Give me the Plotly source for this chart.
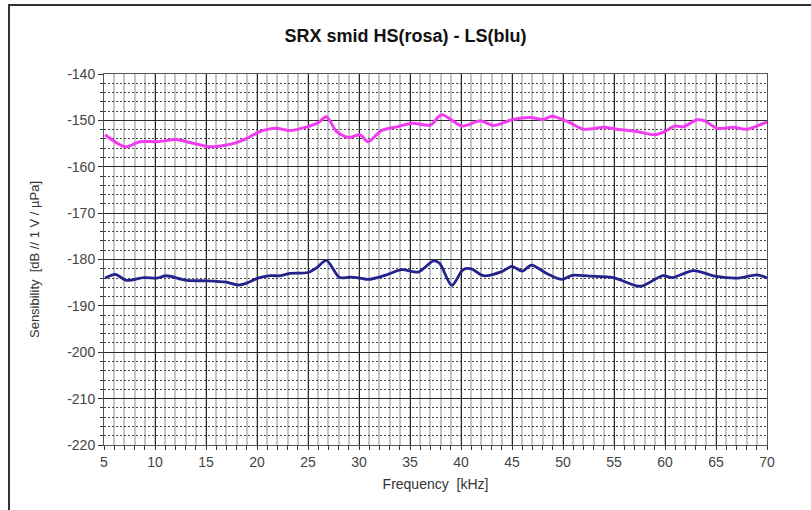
import plotly.graph_objects as go

# HS (rosa) series
hs_freq = [5.1, 7.1, 8.5, 10.2, 12.1, 13.1, 15.4, 17.0, 18.0, 19.0, 20.3, 21.9, 23.2, 24.9, 26.0, 26.8,
           27.8, 29.0, 30.1, 30.9, 32.2, 33.7, 35.2, 37.0, 38.1, 40.1, 41.9, 43.2, 45.1, 46.8, 48.1,
           48.9, 50.5, 52.0, 54.0, 55.3, 57.2, 59.0, 59.8, 61.0, 61.8, 63.1, 63.9, 65.1, 66.7, 68.0, 70.0]
hs_sens = [-153.1, -155.7, -154.6, -154.6, -154.1, -154.6, -155.7, -155.3, -154.8, -153.9, -152.4, -151.7,
           -152.2, -151.4, -150.5, -149.2, -152.4, -153.7, -153.1, -154.6, -152.2, -151.4, -150.6, -151.0,
           -148.8, -151.2, -150.1, -151.1, -149.8, -149.4, -149.8, -149.1, -150.3, -151.9, -151.5, -151.9,
           -152.4, -153.1, -152.6, -151.2, -151.4, -149.9, -150.1, -151.7, -151.5, -151.9, -150.3]

# LS (blu) series
ls_freq = [5.1, 6.1, 7.2, 8.9, 10.2, 11.1, 13.1, 15.1, 17.0, 18.2, 19.0, 20.1, 21.3, 22.3, 23.2, 25.0,
           25.9, 26.8, 28.1, 29.1, 30.1, 30.9, 32.7, 34.2, 35.8, 37.3, 37.9, 39.1, 40.2, 41.0, 42.2,
           44.0, 45.0, 46.0, 46.9, 48.4, 49.9, 50.9, 52.6, 54.9, 57.2, 57.8, 59.8, 60.7, 62.8, 64.9,
           67.2, 69.0, 70.0]
ls_sens = [-184.0, -183.2, -184.5, -183.9, -184.0, -183.5, -184.5, -184.6, -184.9, -185.5, -185.1, -184.0,
           -183.5, -183.5, -183.0, -182.8, -181.7, -180.2, -183.9, -183.8, -184.0, -184.3, -183.3, -182.2,
           -182.7, -180.3, -180.8, -185.6, -182.2, -182.0, -183.5, -182.6, -181.5, -182.5, -181.2, -183.0,
           -184.3, -183.4, -183.6, -183.9, -185.7, -185.7, -183.5, -183.9, -182.4, -183.6, -184.0, -183.3,
           -184.0]

x_ticks = [5, 10, 15, 20, 25, 30, 35, 40, 45, 50, 55, 60, 65, 70]
y_ticks = [-140, -150, -160, -170, -180, -190, -200, -210, -220]

fig = go.Figure()
fig.add_trace(go.Scatter(x=hs_freq, y=hs_sens, mode="lines", name="HS",
                         line=dict(color="#f03cf0", width=3, shape="spline", smoothing=0.8)))
fig.add_trace(go.Scatter(x=ls_freq, y=ls_sens, mode="lines", name="LS",
                         line=dict(color="#23238c", width=2.8, shape="spline", smoothing=0.8)))

font_fam = "Liberation Sans, Arial, sans-serif"
fig.update_layout(
    width=811, height=510,
    margin=dict(l=104, r=44, t=74, b=65),
    paper_bgcolor="white", plot_bgcolor="white",
    showlegend=False,
    title=dict(text="<b>SRX smid HS(rosa) - LS(blu)</b>", x=0.5, xref="container", xanchor="center",
               y=1 - 36 / 510, yref="container", yanchor="middle",
               font=dict(family=font_fam, size=18, color="#111")),
    font=dict(family=font_fam, size=13, color="#333"),
)

fig.update_xaxes(
    range=[5, 70], tickmode="array", tickvals=x_ticks, ticktext=[str(v) for v in x_ticks],
    showgrid=True, gridcolor="#2a2a2a", gridwidth=1,
    minor=dict(tickmode="linear", tick0=5, dtick=1, showgrid=True, gridcolor="#c6c6c6", gridwidth=1.5,
               ticks="outside", ticklen=4, tickcolor="#333"),
    ticks="outside", ticklen=4, tickcolor="#333",
    showline=True, linecolor="#555", linewidth=1, mirror=True,
    zeroline=False,
    title=dict(text="Frequency  [kHz]", font=dict(size=14, color="#333"), standoff=10),
    tickfont=dict(size=14, color="#444"),
)
fig.update_yaxes(
    range=[-220, -140], tickmode="array", tickvals=y_ticks, ticktext=[str(v) for v in y_ticks],
    showgrid=True, gridcolor="#2a2a2a", gridwidth=1,
    minor=dict(tickmode="linear", tick0=-220, dtick=2, showgrid=True, gridcolor="#444", gridwidth=1,
               griddash="2px,2px", ticks="outside", ticklen=3, tickcolor="#333"),
    ticks="outside", ticklen=5, tickcolor="#333",
    showline=True, linecolor="#555", linewidth=1, mirror=True,
    zeroline=False,
    title=dict(text="Sensibility  [dB // 1 V / µPa]", font=dict(size=13, color="#333"), standoff=24),
    tickfont=dict(size=14, color="#444"),
)

# outer chart frame (left and top edges; the rest runs off the picture)
frame_left = (9 - 104) / 663
frame_top = (445 - 5) / 371
fig.add_shape(type="rect", xref="paper", yref="paper",
              x0=frame_left, x1=1.2, y0=-0.3, y1=frame_top,
              line=dict(color="#333", width=2), fillcolor="rgba(0,0,0,0)", layer="above")

fig.write_html("out.html", config={"displayModeBar": False},
               post_script="document.body.style.margin='0';")
